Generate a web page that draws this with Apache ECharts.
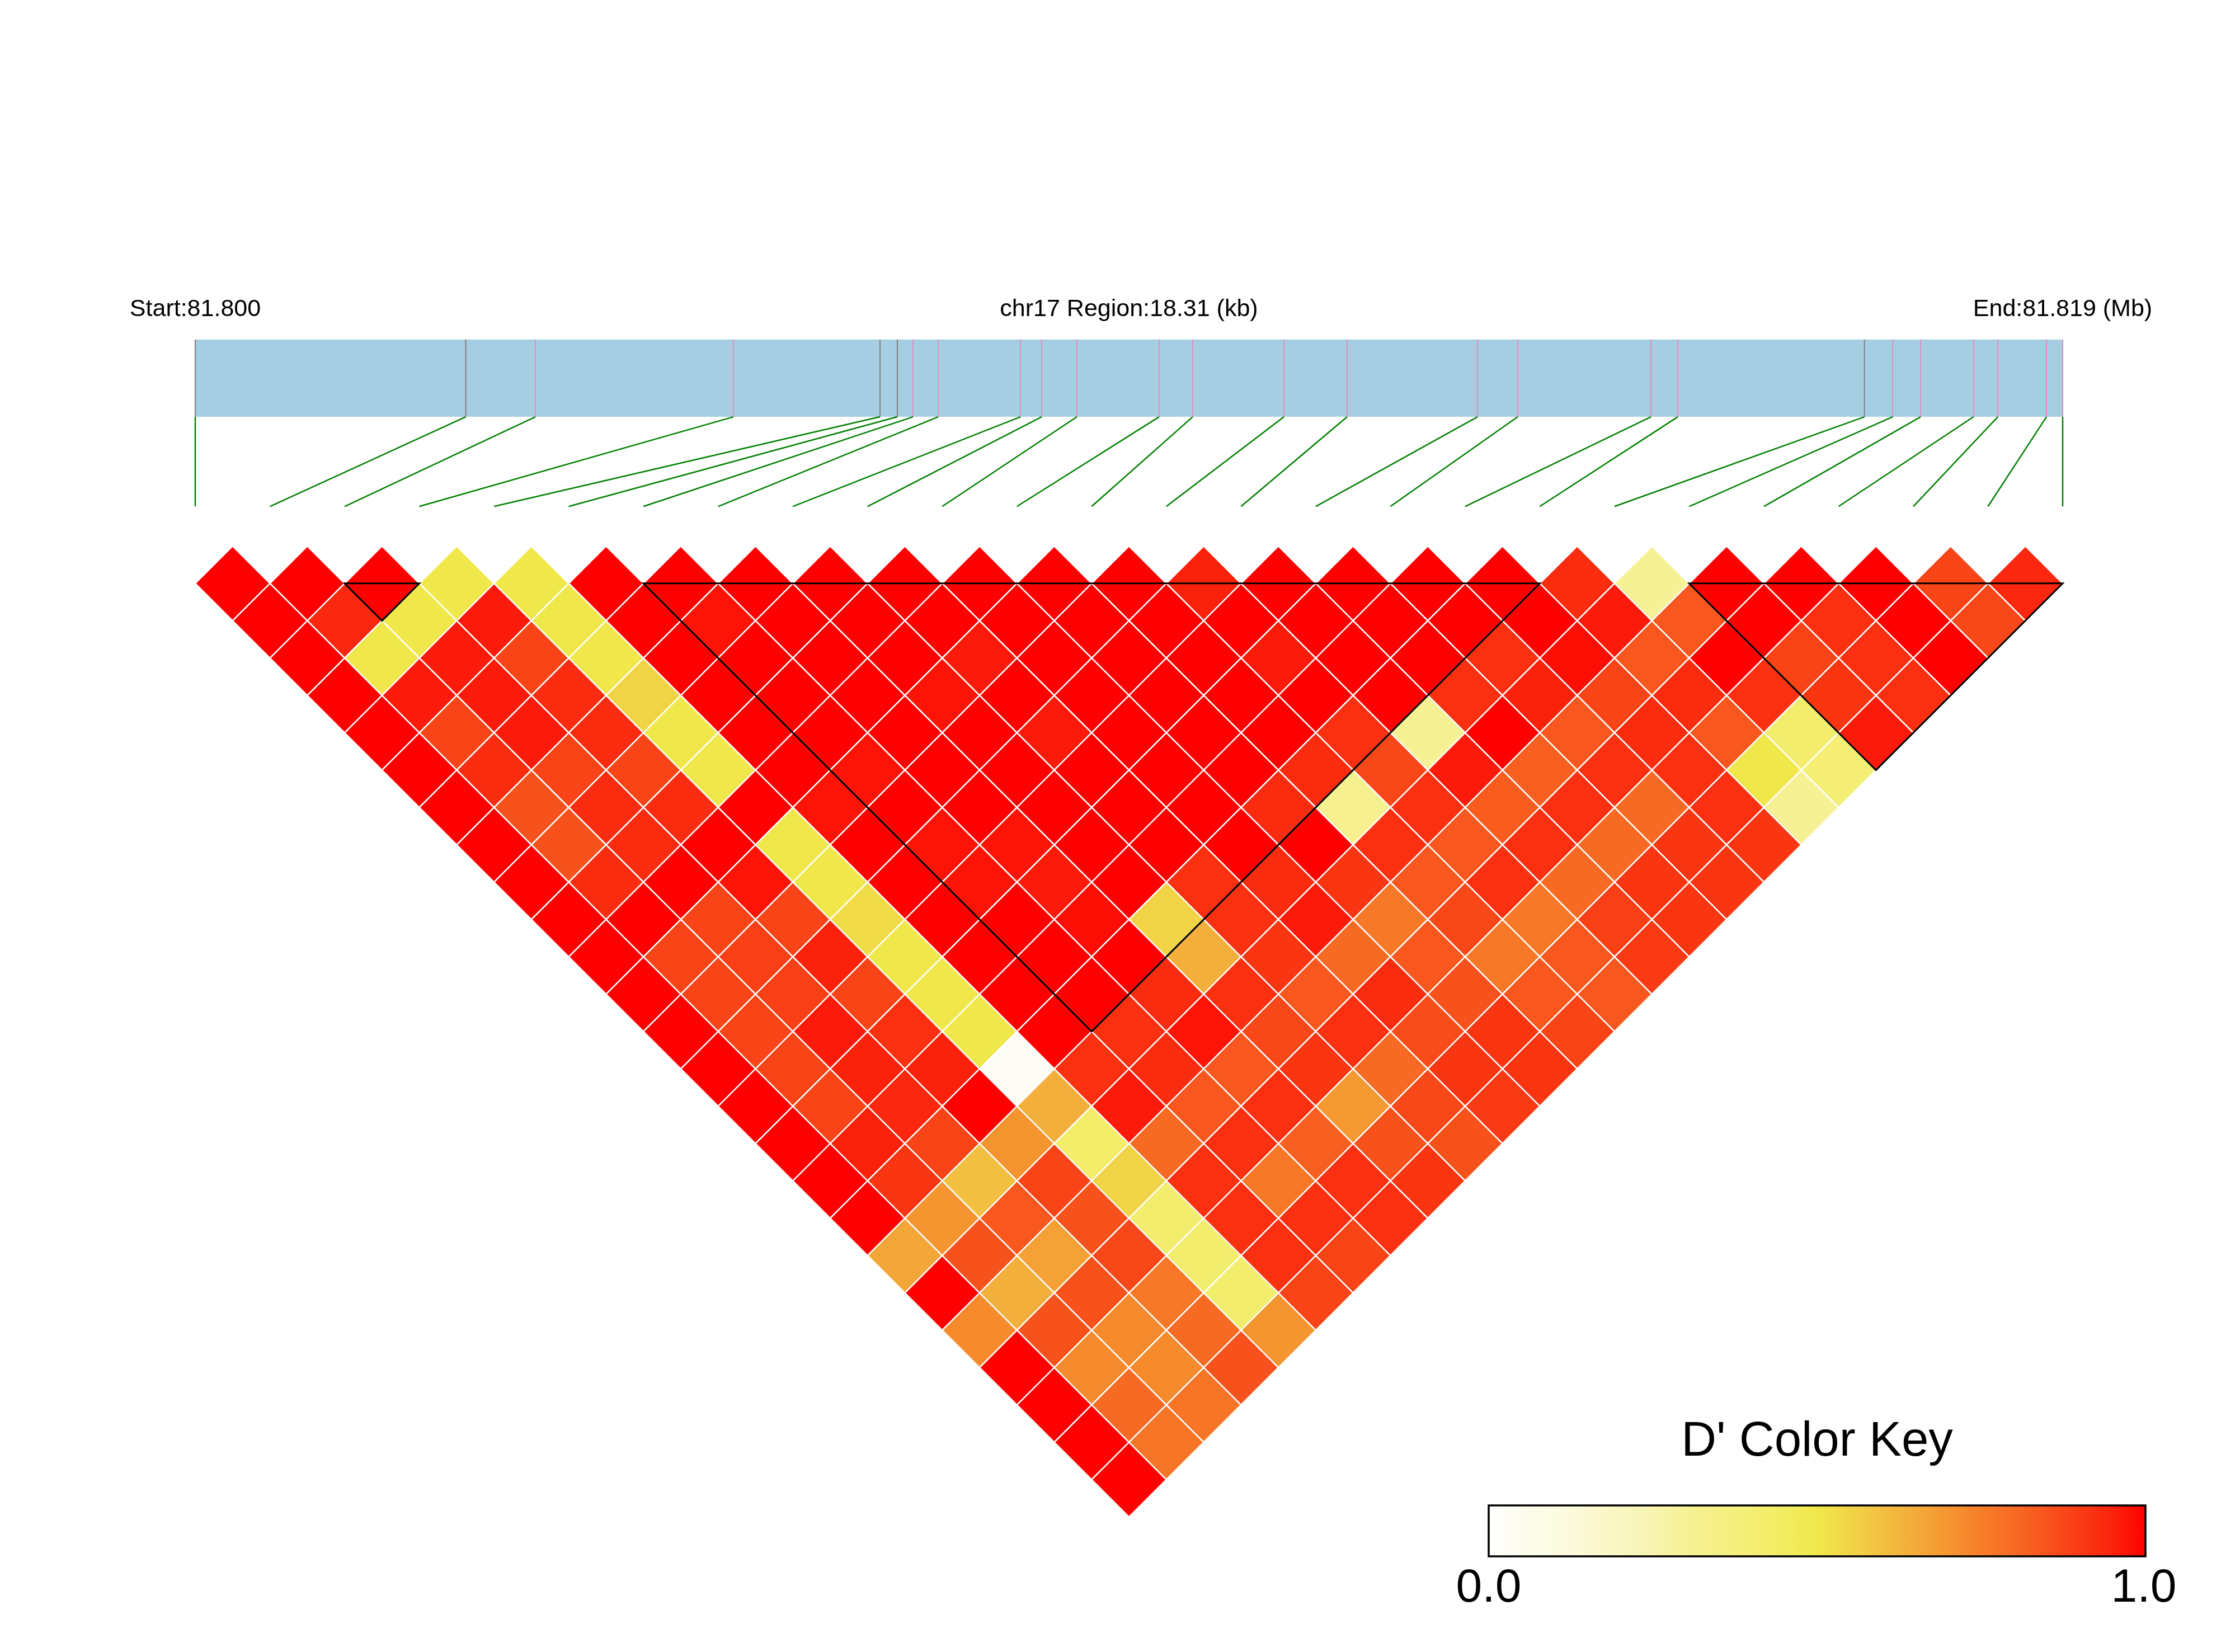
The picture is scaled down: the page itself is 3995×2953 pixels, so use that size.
<!DOCTYPE html>
<html>
<head>
<meta charset="utf-8">
<title>chr17 LD block heatmap</title>
<script src="https://cdn.jsdelivr.net/npm/echarts@6/dist/echarts.min.js"></script>
<style>
  html, body { margin: 0; padding: 0; background: #ffffff; }
  #ld_chart { width: 3995px; height: 2953px; }
</style>
</head>
<body>
<div id="ld_chart"></div>
<script>
// SNP positions, kb from the region start (chr17:81.800 Mb)
const snpPosKb = [0, 2.652, 3.335, 5.277, 6.714, 6.884, 7.038, 7.285, 8.091, 8.299, 8.645, 9.451, 9.780,
  10.675, 11.294, 12.572, 12.967, 14.273, 14.536, 16.366, 16.643, 16.917, 17.436, 17.674, 18.151, 18.31]
const regionKb = 18.31
// SNPs drawn with a grey tick in the gene bar (the others are pink)
const greySnps = [0, 1, 4, 5, 19]
const regionLabels = ['Start:81.800', 'chr17 Region:18.31 (kb)', 'End:81.819 (Mb)']
const keyTicks = ['0.0', '1.0']
const keyTitle = "D' Color Key"

// D' values, one row per SNP distance (row k holds pairs (i, i+k+1))
const dPrimeRows = [
  [1, 1, 1, 0.5, 0.5, 1, 1, 1, 1, 1, 1, 1, 1, 0.95, 1, 1, 1, 1, 0.93, 0.3, 1, 1, 1, 0.88, 0.94],
  [1, 0.94, 0.5, 0.96, 0.5, 1, 0.97, 1, 1, 1, 1, 1, 1, 1, 1, 1, 1, 1, 0.96, 0.84, 1, 0.92, 1, 0.87],
  [1, 0.5, 0.96, 0.88, 0.5, 1, 1, 1, 1, 0.96, 1, 1, 1, 0.96, 1, 1, 0.92, 0.98, 0.84, 1, 0.88, 0.92, 1],
  [1, 0.96, 0.96, 0.93, 0.55, 1, 1, 1, 0.97, 1, 1, 1, 1, 1, 1, 0.92, 0.95, 0.88, 0.93, 0.92, 0.91, 0.92],
  [1, 0.88, 0.96, 0.93, 0.5, 1, 1, 1, 1, 0.96, 1, 1, 1, 0.92, 0.3, 1, 0.84, 0.93, 0.84, 0.42, 0.96],
  [1, 0.93, 0.88, 0.88, 0.5, 1, 0.97, 1, 1, 1, 1, 1, 0.93, 0.87, 0.96, 0.82, 0.92, 0.92, 0.5, 0.4],
  [1, 0.85, 0.93, 0.93, 1, 0.97, 1, 1, 1, 1, 1, 0.93, 0.32, 0.92, 0.83, 0.92, 0.8, 0.92, 0.3],
  [1, 0.85, 0.93, 1, 0.5, 1, 0.97, 0.97, 1, 1, 1, 1, 0.92, 0.84, 0.92, 0.8, 0.91, 0.91],
  [1, 0.93, 1, 0.97, 0.5, 1, 0.97, 0.96, 1, 0.92, 0.93, 0.91, 0.84, 0.92, 0.8, 0.91, 0.91],
  [1, 1, 0.88, 0.88, 0.53, 1, 1, 0.98, 0.55, 0.92, 0.96, 0.76, 0.87, 0.76, 0.89, 0.91],
  [1, 0.88, 0.89, 0.95, 0.5, 1, 1, 1, 0.64, 0.91, 0.8, 0.84, 0.76, 0.84, 0.9],
  [1, 0.88, 0.89, 0.88, 0.5, 1, 1, 0.93, 0.92, 0.84, 0.93, 0.85, 0.84, 0.84],
  [1, 0.88, 0.96, 0.92, 0.5, 1, 0.92, 0.97, 0.87, 0.92, 0.86, 0.91, 0.88],
  [1, 0.88, 0.95, 0.95, 0.03, 0.92, 0.93, 0.84, 0.91, 0.8, 0.91, 0.91],
  [1, 0.88, 0.94, 1, 0.64, 0.96, 0.84, 0.92, 0.69, 0.87, 0.9],
  [1, 0.95, 0.88, 0.7, 0.43, 0.8, 0.92, 0.82, 0.85, 0.85],
  [1, 0.91, 0.6, 0.88, 0.55, 0.92, 0.76, 0.92, 0.91],
  [1, 0.7, 0.84, 0.85, 0.42, 0.92, 0.92, 0.92],
  [0.66, 0.85, 0.67, 0.87, 0.42, 0.92, 0.88],
  [1, 0.64, 0.85, 0.76, 0.42, 0.88],
  [0.72, 0.85, 0.72, 0.8, 0.7],
  [1, 0.72, 0.72, 0.85],
  [1, 0.8, 0.77],
  [1, 0.77],
  [1],
]
// haplotype blocks, first and last SNP index
const ldBlocks = [[2, 3], [6, 18], [20, 25]]

// white -> yellow -> red palette of the D' key
const ldColors = ['#ffffff', '#fdfcee', '#fcfbe2', '#fbf8d2', '#f9f6c2', '#f8f4b0', '#f6f195', '#f5f083',
  '#f4ee74', '#f2ec62', '#f0e84a', '#f1d446', '#f2bf40', '#f3ab3a', '#f59530', '#f77d28', '#f76a24',
  '#f8521c', '#f93a14', '#fb220c', '#ff0000']

const nSnp = snpPosKb.length
const FONT = '"Liberation Sans", Arial, sans-serif'

// rows of the y axis (one unit = one SNP distance step) used for the header
const labelRow = -6.34
const barTop = -5.53
const barBottom = -3.46
const linkBottom = -1.06

const ldCells = []
dPrimeRows.forEach((row, k) => {
  row.forEach((v, i) => ldCells.push([i, i + k + 1, v]))
})

const chartInstance = echarts.init(document.getElementById('ld_chart'))

const keyStops = ldColors.map((c, k) => ({ offset: k / (ldColors.length - 1), color: c }))

const option = {
  animation: false,
  backgroundColor: '#ffffff',
  grid: { left: 349, right: 308, top: 442, bottom: 174.5 },
  xAxis: { type: 'value', min: 0, max: nSnp - 1, show: false },
  yAxis: { type: 'value', min: -8, max: 27, inverse: true, show: false },
  visualMap: {
    show: false,
    type: 'continuous',
    min: 0,
    max: 1,
    dimension: 2,
    seriesIndex: 0,
    inRange: { color: ldColors },
  },
  series: [
    {
      // LD diamonds
      type: 'custom',
      name: 'ld',
      z: 2,
      data: ldCells,
      encode: { x: 0, y: 1 },
      renderItem(params, api) {
        const i = api.value(0)
        const j = api.value(1)
        const cx = (i + j) / 2
        const d = j - i
        const pts = [[cx - 0.5, d], [cx, d - 1], [cx + 0.5, d], [cx, d + 1]].map(p => api.coord(p))
        return {
          type: 'polygon',
          shape: { points: pts },
          style: { fill: api.visual('color'), stroke: '#ffffff', lineWidth: 2.5 },
        }
      },
    },
    {
      // block outlines
      type: 'custom',
      name: 'blocks',
      z: 3,
      data: ldBlocks,
      encode: { x: 0, y: 1 },
      renderItem(params, api) {
        const a = api.value(0)
        const b = api.value(1)
        const pts = [[a, 1], [(a + b) / 2, b - a + 1], [b, 1]].map(p => api.coord(p))
        return {
          type: 'polygon',
          shape: { points: pts },
          style: { fill: 'none', stroke: '#000000', lineWidth: 3 },
        }
      },
    },
    {
      // region bar
      type: 'custom',
      name: 'region',
      z: 1,
      data: [[0, nSnp - 1]],
      encode: { x: [0, 1] },
      renderItem(params, api) {
        const p0 = api.coord([api.value(0), barTop])
        const p1 = api.coord([api.value(1), barBottom])
        return {
          type: 'rect',
          shape: { x: p0[0], y: p0[1], width: p1[0] - p0[0], height: p1[1] - p0[1] },
          style: { fill: '#a6cee3' },
        }
      },
    },
    {
      // SNP ticks in the bar and links down to the LD triangle
      type: 'custom',
      name: 'snps',
      z: 2,
      data: snpPosKb.map((kb, k) => [k, kb / regionKb * (nSnp - 1)]),
      encode: { x: [0, 1] },
      renderItem(params, api) {
        const k = api.value(0)
        const u = api.value(1)
        const top = api.coord([u, barTop])
        const bot = api.coord([u, barBottom])
        const end = api.coord([k, linkBottom])
        const tickColor = greySnps.includes(k) ? '#7f7f7f' : '#e48bc3'
        return {
          type: 'group',
          children: [
            { type: 'line', shape: { x1: top[0], y1: top[1], x2: bot[0], y2: bot[1] }, style: { stroke: tickColor, lineWidth: 2 } },
            { type: 'line', shape: { x1: bot[0], y1: bot[1], x2: end[0], y2: end[1] }, style: { stroke: '#008000', lineWidth: 2.5 } },
          ],
        }
      },
    },
    {
      // start / region / end labels
      type: 'custom',
      name: 'labels',
      z: 2,
      data: [[0, labelRow], [(nSnp - 1) / 2, labelRow], [nSnp - 1, labelRow]],
      encode: { x: 0, y: 1 },
      renderItem(params, api) {
        const p = api.coord([api.value(0), api.value(1)])
        return {
          type: 'text',
          x: p[0],
          y: p[1],
          style: {
            text: regionLabels[params.dataIndex],
            fill: '#000000',
            fontSize: 43,
            fontFamily: FONT,
            align: 'center',
            verticalAlign: 'middle',
          },
        }
      },
    },
  ],
  graphic: [
    {
      type: 'text',
      x: 3248,
      y: 2578,
      style: { text: keyTitle, fill: '#000', fontSize: 87, fontFamily: FONT, align: 'center', verticalAlign: 'middle' },
    },
    {
      type: 'rect',
      shape: { x: 2661, y: 2691, width: 1174, height: 91 },
      style: {
        fill: new echarts.graphic.LinearGradient(0, 0, 1, 0, keyStops),
        stroke: '#000000',
        lineWidth: 3.5,
      },
    },
    {
      type: 'text',
      x: 2661,
      y: 2840,
      style: { text: keyTicks[0], fill: '#000', fontSize: 84, fontFamily: FONT, align: 'center', verticalAlign: 'middle' },
    },
    {
      type: 'text',
      x: 3832,
      y: 2840,
      style: { text: keyTicks[1], fill: '#000', fontSize: 84, fontFamily: FONT, align: 'center', verticalAlign: 'middle' },
    },
  ],
}

chartInstance.setOption(option)
</script>
</body>
</html>
